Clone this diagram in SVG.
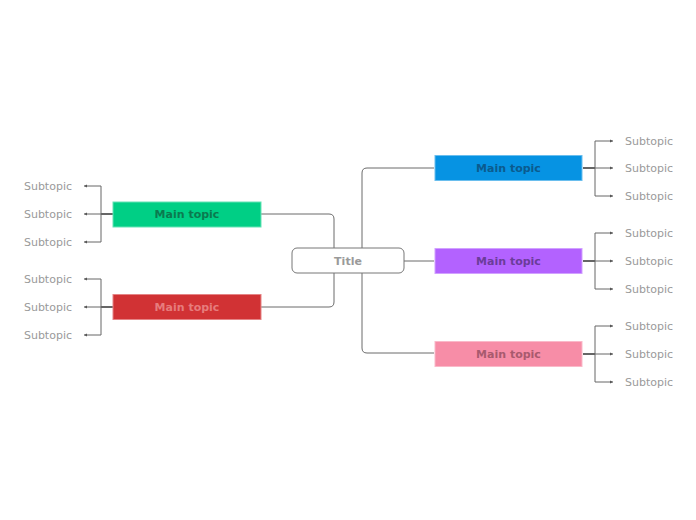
<svg xmlns="http://www.w3.org/2000/svg" width="696" height="520" viewBox="0 0 696 520">
<defs>
<style>
.ln{fill:none;stroke:#6b6b6b;stroke-width:1}
.stem{fill:none;stroke:#333;stroke-width:1.5}
.br{fill:none;stroke:#666;stroke-width:1}
.sub{font-family:"DejaVu Sans",sans-serif;font-size:11px;fill:#9a9a9a}
.mt{font-family:"DejaVu Sans",sans-serif;font-size:11px;font-weight:bold;text-anchor:middle}
</style>
<marker id="ah" markerWidth="4" markerHeight="4" refX="3" refY="2" orient="auto" markerUnits="userSpaceOnUse">
<path d="M0,0.5 L3,2 L0,3.5 Z" fill="#555"/>
</marker>
</defs>
<rect width="696" height="520" fill="#fff"/>
<g id="connectors">
<path class="ln" d="M261,214 H329 Q334,214 334,219 V248"/>
<path class="ln" d="M261,307 H329 Q334,307 334,302 V273"/>
<path class="ln" d="M434,168 H367 Q362,168 362,173 V348 Q362,353 367,353 H434"/>
<path class="ln" d="M404,261 H434"/>
<!-- left brackets -->
<path class="stem" d="M113,214 H101"/>
<path class="br" d="M101,186 V242"/>
<path class="br" d="M101,186 H84" marker-end="url(#ah)"/>
<path class="br" d="M101,214 H84" marker-end="url(#ah)"/>
<path class="br" d="M101,242 H84" marker-end="url(#ah)"/>
<path class="stem" d="M113,307 H101"/>
<path class="br" d="M101,279 V335"/>
<path class="br" d="M101,279 H84" marker-end="url(#ah)"/>
<path class="br" d="M101,307 H84" marker-end="url(#ah)"/>
<path class="br" d="M101,335 H84" marker-end="url(#ah)"/>
<!-- right brackets -->
<path class="stem" d="M583,168 H595"/>
<path class="br" d="M595,141 V196"/>
<path class="br" d="M595,141 H613" marker-end="url(#ah)"/>
<path class="br" d="M595,168 H613" marker-end="url(#ah)"/>
<path class="br" d="M595,196 H613" marker-end="url(#ah)"/>
<path class="stem" d="M583,261 H595"/>
<path class="br" d="M595,233 V289"/>
<path class="br" d="M595,233 H613" marker-end="url(#ah)"/>
<path class="br" d="M595,261 H613" marker-end="url(#ah)"/>
<path class="br" d="M595,289 H613" marker-end="url(#ah)"/>
<path class="stem" d="M583,354 H595"/>
<path class="br" d="M595,326 V382"/>
<path class="br" d="M595,326 H613" marker-end="url(#ah)"/>
<path class="br" d="M595,354 H613" marker-end="url(#ah)"/>
<path class="br" d="M595,382 H613" marker-end="url(#ah)"/>
</g>
<g id="title">
<rect x="292" y="248" width="112" height="25" rx="5" fill="#fff" stroke="#777" stroke-width="1"/>
<text class="mt" x="348" y="265" fill="#9a9a9a">Title</text>
</g>
<g id="main-green">
<rect x="113" y="202" width="148" height="25" fill="#00cf85" stroke="#66e2b5" stroke-width="1"/>
<text class="mt" x="187" y="218" fill="#0b7a4f">Main topic</text>
</g>
<g id="main-red">
<rect x="113" y="294.5" width="148" height="25" fill="#d13234" stroke="#e58485" stroke-width="1"/>
<text class="mt" x="187" y="311" fill="#e67c7c">Main topic</text>
</g>
<g id="main-blue">
<rect x="435" y="155.5" width="147" height="25" fill="#0693e3" stroke="#6abeee" stroke-width="1"/>
<text class="mt" x="508.5" y="172" fill="#0b5b8e">Main topic</text>
</g>
<g id="main-purple">
<rect x="435" y="248.5" width="147" height="25" fill="#b362ff" stroke="#d1a1ff" stroke-width="1"/>
<text class="mt" x="508.5" y="265" fill="#6b3c99">Main topic</text>
</g>
<g id="main-pink">
<rect x="435" y="341.5" width="147" height="25" fill="#f78da7" stroke="#fab9c9" stroke-width="1"/>
<text class="mt" x="508.5" y="358" fill="#a85a6e">Main topic</text>
</g>
<g id="subs-left" text-anchor="end">
<text class="sub" x="72" y="190">Subtopic</text>
<text class="sub" x="72" y="218">Subtopic</text>
<text class="sub" x="72" y="246">Subtopic</text>
<text class="sub" x="72" y="283">Subtopic</text>
<text class="sub" x="72" y="311">Subtopic</text>
<text class="sub" x="72" y="339">Subtopic</text>
</g>
<g id="subs-right">
<text class="sub" x="625" y="145">Subtopic</text>
<text class="sub" x="625" y="172">Subtopic</text>
<text class="sub" x="625" y="200">Subtopic</text>
<text class="sub" x="625" y="237">Subtopic</text>
<text class="sub" x="625" y="265">Subtopic</text>
<text class="sub" x="625" y="293">Subtopic</text>
<text class="sub" x="625" y="330">Subtopic</text>
<text class="sub" x="625" y="358">Subtopic</text>
<text class="sub" x="625" y="386">Subtopic</text>
</g>
</svg>
